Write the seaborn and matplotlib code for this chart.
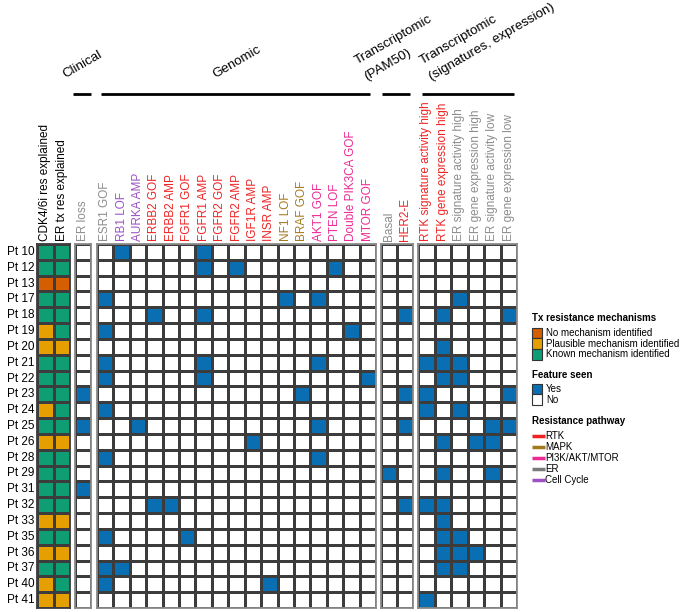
import matplotlib
matplotlib.use("Agg")
import matplotlib.pyplot as plt
from matplotlib.colors import ListedColormap
from matplotlib.patches import Rectangle
import numpy as np
import pandas as pd
import seaborn as sns

plt.rcParams['font.family'] = ['Liberation Sans', 'DejaVu Sans']

# ---------------- data ----------------
patients = ["Pt 10", "Pt 12", "Pt 13", "Pt 17", "Pt 18", "Pt 19", "Pt 20", "Pt 21",
            "Pt 22", "Pt 23", "Pt 24", "Pt 25", "Pt 26", "Pt 28", "Pt 29", "Pt 31",
            "Pt 32", "Pt 33", "Pt 35", "Pt 36", "Pt 37", "Pt 40", "Pt 41"]

res_columns = ["CDK4/6i res explained", "ER tx res explained"]
# N = no mechanism, P = plausible mechanism, K = known mechanism
cdk_res = ["K", "K", "N", "K", "K", "P", "P", "K", "K", "K", "P", "K",
           "P", "K", "K", "K", "K", "P", "K", "P", "K", "P", "P"]
er_res = ["K", "K", "N", "K", "K", "K", "P", "K", "K", "K", "K", "K",
          "P", "K", "K", "K", "K", "P", "K", "P", "K", "K", "P"]
res_levels = ["N", "P", "K"]
res_labels = ["No mechanism identified", "Plausible mechanism identified",
              "Known mechanism identified"]
res_colors = ["#D55E00", "#E69F00", "#0F9E74"]

clinical_features = ["ER loss"]
genomic_features = ["ESR1 GOF", "RB1 LOF", "AURKA AMP", "ERBB2 GOF", "ERBB2 AMP",
                    "FGFR1 GOF", "FGFR1 AMP", "FGFR2 GOF", "FGFR2 AMP", "IGF1R AMP",
                    "INSR AMP", "NF1 LOF", "BRAF GOF", "AKT1 GOF", "PTEN LOF",
                    "Double PIK3CA GOF", "MTOR GOF"]
pam50_features = ["Basal", "HER2-E"]
tx_features = ["RTK signature activity high", "RTK gene expression high",
               "ER signature activity high", "ER gene expression high",
               "ER signature activity low", "ER gene expression low"]

feature_hits = {
    "ER loss": ["Pt 23", "Pt 25", "Pt 31"],
    "ESR1 GOF": ["Pt 17", "Pt 19", "Pt 21", "Pt 22", "Pt 24", "Pt 28", "Pt 35", "Pt 37", "Pt 40"],
    "RB1 LOF": ["Pt 10", "Pt 37"],
    "AURKA AMP": ["Pt 25"],
    "ERBB2 GOF": ["Pt 18", "Pt 32"],
    "ERBB2 AMP": ["Pt 32"],
    "FGFR1 GOF": ["Pt 35"],
    "FGFR1 AMP": ["Pt 10", "Pt 12", "Pt 18", "Pt 21", "Pt 22"],
    "FGFR2 GOF": [],
    "FGFR2 AMP": ["Pt 12"],
    "IGF1R AMP": ["Pt 26"],
    "INSR AMP": ["Pt 40"],
    "NF1 LOF": ["Pt 17"],
    "BRAF GOF": ["Pt 23"],
    "AKT1 GOF": ["Pt 17", "Pt 21", "Pt 25", "Pt 28"],
    "PTEN LOF": ["Pt 12"],
    "Double PIK3CA GOF": ["Pt 19"],
    "MTOR GOF": ["Pt 22"],
    "Basal": ["Pt 29"],
    "HER2-E": ["Pt 18", "Pt 23", "Pt 25", "Pt 32"],
    "RTK signature activity high": ["Pt 21", "Pt 23", "Pt 24", "Pt 32", "Pt 41"],
    "RTK gene expression high": ["Pt 18", "Pt 20", "Pt 21", "Pt 22", "Pt 26", "Pt 29",
                                 "Pt 32", "Pt 33", "Pt 35", "Pt 36", "Pt 37"],
    "ER signature activity high": ["Pt 17", "Pt 21", "Pt 22", "Pt 24", "Pt 35", "Pt 36", "Pt 37"],
    "ER gene expression high": ["Pt 26", "Pt 36"],
    "ER signature activity low": ["Pt 25", "Pt 26", "Pt 29"],
    "ER gene expression low": ["Pt 18", "Pt 23", "Pt 25"],
}

pathways = ["RTK", "MAPK", "PI3K/AKT/MTOR", "ER", "Cell Cycle"]
pathway_colors = ["#EE2424", "#A47A1E", "#EC2A96", "#7A7A7A", "#9E50C2"]
pathway_text_colors = ["#EE2424", "#A47A1E", "#EC2A96", "#8C8C8C", "#9E50C2"]
feature_pathway = {
    "ER loss": "ER", "ESR1 GOF": "ER", "RB1 LOF": "Cell Cycle", "AURKA AMP": "Cell Cycle",
    "ERBB2 GOF": "RTK", "ERBB2 AMP": "RTK", "FGFR1 GOF": "RTK", "FGFR1 AMP": "RTK",
    "FGFR2 GOF": "RTK", "FGFR2 AMP": "RTK", "IGF1R AMP": "RTK", "INSR AMP": "RTK",
    "NF1 LOF": "MAPK", "BRAF GOF": "MAPK", "AKT1 GOF": "PI3K/AKT/MTOR",
    "PTEN LOF": "PI3K/AKT/MTOR", "Double PIK3CA GOF": "PI3K/AKT/MTOR",
    "MTOR GOF": "PI3K/AKT/MTOR", "Basal": "ER", "HER2-E": "RTK",
    "RTK signature activity high": "RTK", "RTK gene expression high": "RTK",
    "ER signature activity high": "ER", "ER gene expression high": "ER",
    "ER signature activity low": "ER", "ER gene expression low": "ER",
}

group_names = ["Clinical", "Genomic", "Transcriptomic\n(PAM50)",
               "Transcriptomic\n(signatures, expression)"]
feature_seen_labels = ["Yes", "No"]
yes_color = "#0A6EB2"

# ---------------- figure ----------------
W, H = 685, 612
fig = plt.figure(figsize=(W / 100, H / 100), dpi=100)

grid_top, grid_bot = 244, 608


def px_axes(x0, x1):
    return fig.add_axes([x0 / W, 1 - grid_bot / H, (x1 - x0) / W, (grid_bot - grid_top) / H])


line_kw = dict(linewidths=0.8, linecolor="#3c3c3c", cbar=False)


def style(ax, labels, colors):
    ax.xaxis.tick_top()
    ax.set_xticklabels(labels, rotation=90, fontsize=8.5)
    for t, c in zip(ax.get_xticklabels(), colors):
        t.set_color(c)
    ax.tick_params(axis="both", length=0, pad=2)
    ax.set_xlabel("")
    ax.set_ylabel("")
    for s in ax.spines.values():
        s.set_visible(True)
        s.set_color("#8a8a8a")
        s.set_linewidth(1.3)


# block 1: resistance explained
res_df = pd.DataFrame({res_columns[0]: [res_levels.index(v) for v in cdk_res],
                       res_columns[1]: [res_levels.index(v) for v in er_res]},
                      index=patients)
ax1 = px_axes(37, 70)
sns.heatmap(res_df, ax=ax1, cmap=ListedColormap(res_colors), vmin=-0.5, vmax=2.5,
            xticklabels=True, yticklabels=True, **line_kw)
style(ax1, res_columns, ["black", "black"])
ax1.set_yticklabels(patients, rotation=0, fontsize=8.5)
for s in ax1.spines.values():
    s.set_color("#3c3c3c")


def binary_df(features):
    return pd.DataFrame({f: [1 if p in feature_hits[f] else 0 for p in patients]
                         for f in features}, index=patients)


bin_cmap = ListedColormap(["white", yes_color])
blocks = [(clinical_features, 75, 91), (genomic_features, 97, 376),
          (pam50_features, 381, 413), (tx_features, 418, 517)]
for feats, x0, x1 in blocks:
    ax = px_axes(x0, x1)
    sns.heatmap(binary_df(feats), ax=ax, cmap=bin_cmap, vmin=0, vmax=1,
                xticklabels=True, yticklabels=False, **line_kw)
    cols = [pathway_text_colors[pathways.index(feature_pathway[f])] for f in feats]
    style(ax, feats, cols)

# ---------------- overlay: group headers and legend ----------------
ov = fig.add_axes([0, 0, 1, 1])
ov.set_xlim(0, W)
ov.set_ylim(H, 0)
ov.axis("off")
ov.patch.set_alpha(0)

header_lines = [(73, 91), (101, 370), (382, 410), (422, 514)]
for x0, x1 in header_lines:
    ov.plot([x0, x1], [93.5, 93.5], color="black", lw=2, solid_capstyle="butt")

header_pos = [(65, 78), (215, 78), (357, 64), (422, 64)]
for name, (x, y) in zip(group_names, header_pos):
    lines = name.split("\n")
    for i, ln in enumerate(lines):
        dx, dy = 9.3 * i, 16.0 * i
        ov.text(x + dx, y + dy, ln, rotation=30, rotation_mode="anchor",
                ha="left", va="baseline", fontsize=9.6)

lx = 532
ov.text(lx, 318, "Tx resistance mechanisms", fontsize=7, fontweight="bold", va="center")
for i, (lab, col) in enumerate(zip(res_labels, res_colors)):
    yc = 333 + 10.6 * i
    ov.add_patch(Rectangle((lx, yc - 5.3), 10, 10.6, facecolor=col, edgecolor="#333333", lw=0.8))
    ov.text(lx + 14, yc, lab, fontsize=7, va="center")

ov.text(lx, 375, "Feature seen", fontsize=7, fontweight="bold", va="center")
for i, (lab, col) in enumerate(zip(feature_seen_labels, [yes_color, "white"])):
    yc = 389 + 10.8 * i
    ov.add_patch(Rectangle((lx, yc - 5.4), 10, 10.8, facecolor=col, edgecolor="#333333", lw=0.8))
    ov.text(lx + 14, yc, lab, fontsize=7, va="center")

ov.text(lx, 421, "Resistance pathway", fontsize=7, fontweight="bold", va="center")
for i, (lab, col) in enumerate(zip(pathways, pathway_colors)):
    yc = 436 + 11 * i
    ov.plot([lx, lx + 13], [yc, yc], color=col, lw=2.5, solid_capstyle="butt")
    ov.text(lx + 13.5, yc, lab, fontsize=7, va="center")

fig.savefig("out.png", dpi=100)
